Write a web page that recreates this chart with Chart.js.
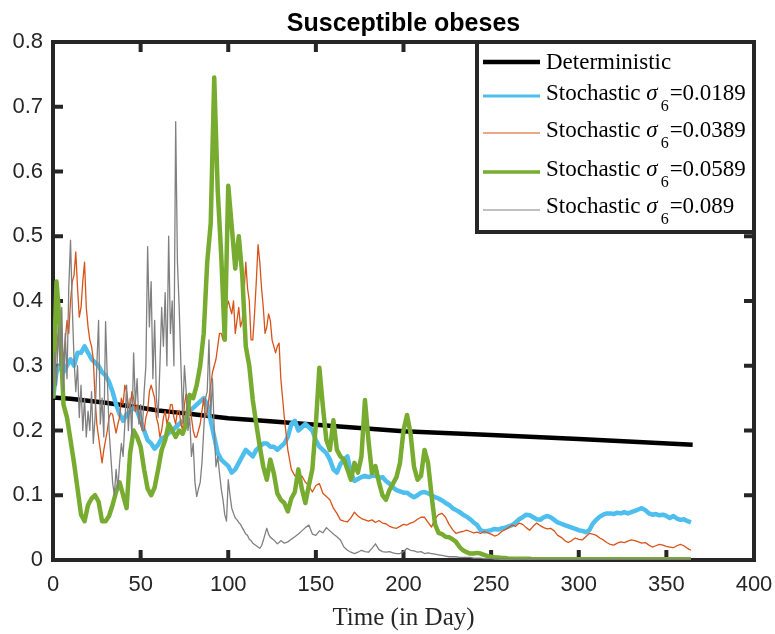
<!DOCTYPE html>
<html>
<head>
<meta charset="utf-8">
<title>Susceptible obeses</title>
<script src="https://cdn.jsdelivr.net/npm/chart.js@4.4.1/dist/chart.umd.min.js"></script>
<style>
  html, body { margin: 0; padding: 0; background: #fff; }
  #wrap { width: 775px; height: 634px; }
</style>
</head>
<body>
<div id="wrap"><canvas id="chart" width="775" height="634"></canvas></div>
<script>
// time grids of the simulations: every second day 0..364,
// and a daily grid for the first 130 days of the two noisiest runs
const days = Array.from({ length: 183 }, (_, i) => i * 2);
const earlyDays = Array.from({ length: 130 }, (_, i) => i);
const lateDays = days.filter(d => d >= 130);

// deterministic solution
const detDays = [0, 10, 20, 30, 40, 50, 60, 70, 80, 90, 100, 120, 150, 175, 200, 250, 300, 365];
const detVals = [0.251, 0.249, 0.246, 0.243, 0.239, 0.235, 0.231, 0.228, 0.225, 0.222,
                 0.219, 0.215, 0.209, 0.204, 0.199, 0.193, 0.187, 0.178];

// sigma_6 = 0.0189, every second day
const sigma1Vals = [
  0.25, 0.29, 0.30, 0.29, 0.30, 0.31, 0.30, 0.32, 0.32, 0.33,
  0.32, 0.31, 0.305, 0.30, 0.29, 0.285, 0.275, 0.26, 0.24, 0.225,
  0.215, 0.225, 0.23, 0.235, 0.23, 0.215, 0.20, 0.185, 0.18, 0.172,
  0.178, 0.188, 0.19, 0.196, 0.20, 0.205, 0.21, 0.215, 0.22, 0.23,
  0.235, 0.24, 0.245, 0.25, 0.24, 0.215, 0.19, 0.165, 0.155, 0.15,
  0.145, 0.135, 0.14, 0.15, 0.16, 0.17, 0.165, 0.16, 0.17, 0.175,
  0.18, 0.18, 0.175, 0.175, 0.17, 0.175, 0.18, 0.19, 0.21, 0.215,
  0.2, 0.205, 0.21, 0.205, 0.2, 0.185, 0.175, 0.17, 0.165, 0.155,
  0.14, 0.135, 0.148, 0.155, 0.16, 0.135, 0.122, 0.125, 0.128, 0.13,
  0.128, 0.13, 0.13, 0.127, 0.128, 0.122, 0.118, 0.112, 0.108, 0.106,
  0.104, 0.104, 0.1, 0.097, 0.1, 0.104, 0.105, 0.103, 0.1, 0.097,
  0.095, 0.092, 0.088, 0.085, 0.08, 0.077, 0.074, 0.07, 0.067, 0.063,
  0.058, 0.054, 0.046, 0.044, 0.045, 0.046, 0.048, 0.047, 0.049, 0.05,
  0.052, 0.054, 0.058, 0.063, 0.066, 0.07, 0.069, 0.066, 0.063, 0.062,
  0.066, 0.068, 0.066, 0.062, 0.058, 0.056, 0.054, 0.052, 0.05, 0.048,
  0.046, 0.045, 0.043, 0.046, 0.056, 0.062, 0.067, 0.07, 0.072, 0.072,
  0.071, 0.073, 0.072, 0.074, 0.072, 0.074, 0.076, 0.078, 0.08, 0.077,
  0.072, 0.07, 0.071, 0.069, 0.07, 0.068, 0.065, 0.068, 0.064, 0.062,
  0.063, 0.06, 0.058
];

// sigma_6 = 0.0389: daily to day 129, then every second day
const sigma2Early = [
  0.25, 0.30, 0.33, 0.35, 0.36, 0.33, 0.31, 0.34, 0.37, 0.35,
  0.40, 0.43, 0.44, 0.476, 0.42, 0.375, 0.39, 0.43, 0.46, 0.39,
  0.36, 0.34, 0.33, 0.31, 0.25, 0.21, 0.19, 0.17, 0.15, 0.17,
  0.185, 0.2, 0.22, 0.227, 0.225, 0.21, 0.196, 0.21, 0.22, 0.25,
  0.24, 0.27, 0.26, 0.24, 0.23, 0.26, 0.25, 0.23, 0.24, 0.22,
  0.21, 0.2, 0.2, 0.22, 0.23, 0.26, 0.27, 0.26, 0.25, 0.22,
  0.21, 0.19, 0.2, 0.22, 0.23, 0.21, 0.22, 0.24, 0.24, 0.22,
  0.21, 0.23, 0.23, 0.21, 0.2, 0.24, 0.257, 0.25, 0.24, 0.22,
  0.2, 0.19, 0.19, 0.2, 0.21, 0.23, 0.25, 0.22, 0.23, 0.25,
  0.27, 0.29, 0.3, 0.31, 0.33, 0.35, 0.35, 0.34, 0.37, 0.39,
  0.4, 0.39, 0.38, 0.4, 0.35, 0.37, 0.39, 0.36, 0.37, 0.41,
  0.46, 0.42, 0.4, 0.34, 0.34, 0.38, 0.43, 0.487, 0.46, 0.42,
  0.39, 0.35, 0.36, 0.38, 0.37, 0.34, 0.33, 0.32, 0.33, 0.335
];
const sigma2Late = [
  0.28, 0.22, 0.17, 0.14, 0.13,
  0.125, 0.13, 0.12, 0.115, 0.105, 0.115, 0.118, 0.103, 0.098, 0.093,
  0.08, 0.072, 0.062, 0.06, 0.059, 0.065, 0.074, 0.068, 0.064, 0.062,
  0.06, 0.062, 0.058, 0.061, 0.057, 0.056, 0.052, 0.05, 0.049, 0.052,
  0.055, 0.054, 0.057, 0.059, 0.063, 0.066, 0.066, 0.058, 0.051, 0.064,
  0.07, 0.072, 0.066, 0.055, 0.047, 0.041, 0.043, 0.044, 0.046, 0.044,
  0.042, 0.043, 0.041, 0.044, 0.042, 0.04, 0.037, 0.039, 0.044, 0.047,
  0.05, 0.054, 0.052, 0.057, 0.055, 0.05, 0.046, 0.052, 0.057, 0.053,
  0.05, 0.048, 0.049, 0.045, 0.038, 0.035, 0.03, 0.027, 0.03, 0.034,
  0.032, 0.031, 0.036, 0.041, 0.04, 0.038, 0.034, 0.031, 0.027, 0.024,
  0.023, 0.026, 0.028, 0.027, 0.029, 0.031, 0.03, 0.028, 0.026, 0.027,
  0.023, 0.02, 0.022, 0.024, 0.023, 0.021, 0.02, 0.019, 0.022, 0.024,
  0.022, 0.018, 0.015
];

// sigma_6 = 0.0589, every second day
const sigma3Vals = [
  0.25, 0.43, 0.36, 0.24, 0.22, 0.185, 0.15, 0.11, 0.07, 0.06,
  0.085, 0.095, 0.1, 0.09, 0.06, 0.06, 0.068, 0.085, 0.105, 0.12,
  0.1, 0.08, 0.165, 0.2, 0.19, 0.175, 0.14, 0.11, 0.1, 0.112,
  0.14, 0.17, 0.185, 0.21, 0.2, 0.19, 0.2, 0.195, 0.21, 0.255,
  0.25, 0.27, 0.3, 0.35, 0.46, 0.52, 0.745, 0.57, 0.47, 0.34,
  0.578, 0.515, 0.45, 0.5, 0.44, 0.33, 0.3, 0.247, 0.21, 0.175,
  0.144, 0.124, 0.155, 0.134, 0.103, 0.093, 0.088, 0.075, 0.095, 0.105,
  0.14, 0.11, 0.088, 0.115, 0.14, 0.21, 0.297, 0.237, 0.185, 0.17,
  0.216, 0.17, 0.16, 0.155, 0.14, 0.124, 0.15, 0.135, 0.16, 0.247,
  0.185, 0.134, 0.145, 0.12, 0.1, 0.093, 0.108, 0.118, 0.128, 0.15,
  0.2, 0.224, 0.196, 0.144, 0.124, 0.13, 0.17, 0.15, 0.1, 0.055,
  0.042, 0.04, 0.036, 0.035, 0.032, 0.028, 0.02, 0.015, 0.012, 0.01,
  0.01, 0.011, 0.01, 0.008, 0.006, 0.005, 0.004, 0.004, 0.003, 0.003,
  0.002, 0.002, 0.002, 0.002, 0.002, 0.002, 0.002, 0.001, 0.001, 0.001,
  0.001, 0.001, 0.001, 0.001, 0.001, 0.001, 0.001, 0.001, 0.001, 0.001,
  0.001, 0.001, 0.001, 0.001, 0.001, 0.001, 0.001, 0.001, 0.001, 0.001,
  0.001, 0.001, 0.001, 0.001, 0.001, 0.001, 0.001, 0.001, 0.001, 0.001,
  0.001, 0.001, 0.001, 0.001, 0.001, 0.001, 0.001, 0.001, 0.001, 0.001,
  0.001, 0.001, 0.001
];

// sigma_6 = 0.089: daily to day 129, then every second day
const sigma4Early = [
  0.25, 0.32, 0.27, 0.36, 0.3, 0.39, 0.26, 0.35, 0.28, 0.42,
  0.494, 0.39, 0.31, 0.26, 0.3, 0.22, 0.27, 0.2, 0.25, 0.19,
  0.23, 0.2, 0.26, 0.18, 0.22, 0.3, 0.37, 0.21, 0.25, 0.19,
  0.368, 0.28, 0.2, 0.16, 0.12, 0.1, 0.14, 0.11, 0.15, 0.18,
  0.16, 0.21, 0.27, 0.2, 0.25, 0.19, 0.32, 0.24, 0.28, 0.21,
  0.24, 0.2, 0.26, 0.3, 0.484, 0.36, 0.43, 0.28, 0.37, 0.25,
  0.22, 0.3, 0.39, 0.33, 0.413, 0.3, 0.5, 0.35, 0.4, 0.3,
  0.677, 0.46, 0.39, 0.3, 0.22, 0.3, 0.26, 0.2, 0.22, 0.16,
  0.18, 0.12, 0.098, 0.11, 0.12, 0.15, 0.2, 0.25, 0.26, 0.34,
  0.22, 0.28, 0.2, 0.144, 0.16, 0.134, 0.11, 0.093, 0.07, 0.06,
  0.124, 0.1, 0.08, 0.072, 0.065, 0.062, 0.058, 0.055, 0.05, 0.045,
  0.04, 0.038, 0.032, 0.03, 0.026, 0.024, 0.022, 0.02, 0.018, 0.022,
  0.03, 0.04, 0.049, 0.04, 0.035, 0.033, 0.031, 0.028, 0.025, 0.027
];
const sigma4Late = [
  0.03, 0.026, 0.028, 0.032, 0.036,
  0.04, 0.045, 0.05, 0.054, 0.04, 0.038, 0.045, 0.042, 0.05, 0.045,
  0.04, 0.036, 0.031, 0.02, 0.015, 0.012, 0.01, 0.012, 0.015, 0.013,
  0.012, 0.018, 0.025, 0.016, 0.013, 0.012, 0.013, 0.011, 0.01, 0.01,
  0.013, 0.018, 0.015, 0.014, 0.012, 0.013, 0.01, 0.011, 0.01, 0.009,
  0.008, 0.007, 0.006, 0.005, 0.005, 0.005, 0.004, 0.004, 0.004, 0.004,
  0.003, 0.003, 0.003, 0.002, 0.002, 0.002, 0.002, 0.002, 0.002, 0.002,
  0.002, 0.002, 0.001, 0.002, 0.001, 0.001, 0.002, 0.001, 0.001, 0.001,
  0.001, 0.001, 0.001, 0.001, 0.001, 0.001, 0.001, 0.001, 0.001, 0.001,
  0.001, 0.001, 0.001, 0.001, 0.001, 0.001, 0.001, 0.001, 0.001, 0.001,
  0.001, 0.001, 0.001, 0.001, 0.001, 0.001, 0.001, 0.001, 0.001, 0.001,
  0.001, 0.001, 0.001, 0.001, 0.001, 0.001, 0.001, 0.001, 0.001, 0.001,
  0.001, 0.001, 0.001
];

const sigmaLabels = ["0.0189", "0.0389", "0.0589", "0.089"];
const xTicks = { min: 0, max: 400, step: 50 };
const yTicks = { min: 0, max: 0.8, step: 0.1 };

const axisColor = "#262626";
const sansFont = '"Liberation Sans", Arial, Helvetica, sans-serif';
const serifFont = '"Liberation Serif", "Times New Roman", serif';

const toPoints = (xs, ys) => ys.map((v, i) => ({ x: xs[i], y: v }));
const splitDays = earlyDays.concat(lateDays);

// plotted width is a bit heavier than the legend sample for the noisy runs
const lineStyle = (color, width, keyWidth, order) => ({
  borderColor: color,
  borderWidth: width,
  keyWidth: keyWidth,
  pointRadius: 0,
  tension: 0,
  fill: false,
  borderJoinStyle: "round",
  order: order
});

/* box around the axes with inward tick marks on all four sides, plus the title */
const axesBox = {
  id: "axesBox",
  beforeDatasetsDraw(chart) {
    const { ctx, chartArea: a, scales: { x, y } } = chart;
    ctx.save();
    ctx.strokeStyle = axisColor;
    ctx.lineWidth = 4;
    ctx.strokeRect(a.left, a.top, a.right - a.left, a.bottom - a.top);
    ctx.fillStyle = axisColor;
    x.ticks.forEach(t => {
      const px = x.getPixelForValue(t.value);
      ctx.fillRect(px - 2, a.bottom - 10, 4, 10);
      ctx.fillRect(px - 2, a.top, 4, 10);
    });
    y.ticks.forEach(t => {
      const py = y.getPixelForValue(t.value);
      ctx.fillRect(a.left, py - 2, 10, 4);
      ctx.fillRect(a.right - 10, py - 2, 10, 4);
    });

    ctx.fillStyle = "#000";
    ctx.font = "bold 25px " + sansFont;
    ctx.textAlign = "center";
    ctx.textBaseline = "middle";
    ctx.fillText("Susceptible obeses", (a.left + a.right) / 2, a.top - 18);
    ctx.restore();
  }
};

/* legend in the upper right corner, with sigma_6 subscripts */
const legendBox = {
  id: "legendBox",
  afterDraw(chart) {
    const { ctx, chartArea: a } = chart;
    const w = 277, h = 190;
    const left = a.right - w, top = a.top;
    const lineY = [20, 54, 91, 130, 168];
    const baseY = [27, 57.5, 95, 134, 171];

    ctx.save();
    ctx.fillStyle = "#fff";
    ctx.fillRect(left, top, w, h);
    ctx.strokeStyle = axisColor;
    ctx.lineWidth = 4;
    ctx.strokeRect(left, top, w, h);

    ctx.textBaseline = "alphabetic";
    ctx.textAlign = "left";
    chart.data.datasets.forEach((ds, i) => {
      ctx.strokeStyle = ds.borderColor;
      ctx.lineWidth = ds.keyWidth;
      ctx.beginPath();
      ctx.moveTo(left + 6, top + lineY[i]);
      ctx.lineTo(left + 63, top + lineY[i]);
      ctx.stroke();

      ctx.fillStyle = "#000";
      let tx = left + 69;
      const by = top + baseY[i];
      if (i === 0) {
        ctx.font = "23px " + serifFont;
        ctx.fillText("Deterministic", tx, by);
        return;
      }
      ctx.font = "23px " + serifFont;
      ctx.fillText("Stochastic ", tx, by);
      tx += ctx.measureText("Stochastic ").width;
      ctx.font = "italic 23px " + serifFont;
      ctx.fillText("\u03c3", tx, by);
      tx += ctx.measureText("\u03c3").width + 3;
      ctx.font = "16px " + serifFont;
      ctx.fillText("6", tx, by + 11);
      tx += ctx.measureText("6").width + 1;
      ctx.font = "23px " + serifFont;
      ctx.fillText("=" + sigmaLabels[i - 1], tx, by);
    });
    ctx.restore();
  }
};

new Chart(document.getElementById("chart"), {
  type: "line",
  data: {
    datasets: [
      { label: "Deterministic", data: toPoints(detDays, detVals), ...lineStyle("#000000", 4.5, 4.5, 5) },
      { label: "Stochastic \u03c36=" + sigmaLabels[0], data: toPoints(days, sigma1Vals), ...lineStyle("#4DBEEE", 4.5, 3, 4) },
      { label: "Stochastic \u03c36=" + sigmaLabels[1], data: toPoints(splitDays, sigma2Early.concat(sigma2Late)), ...lineStyle("#D95319", 1.3, 1, 3) },
      { label: "Stochastic \u03c36=" + sigmaLabels[2], data: toPoints(days, sigma3Vals), ...lineStyle("#77AC30", 4.5, 3.5, 2) },
      { label: "Stochastic \u03c36=" + sigmaLabels[3], data: toPoints(splitDays, sigma4Early.concat(sigma4Late)), ...lineStyle("#808080", 1.3, 1, 1) }
    ]
  },
  options: {
    responsive: false,
    animation: false,
    layout: { padding: { left: 0, right: 21, top: 42, bottom: 0 } },
    plugins: {
      legend: { display: false },
      tooltip: { enabled: false },
      title: { display: false }
    },
    scales: {
      x: {
        type: "linear",
        min: xTicks.min,
        max: xTicks.max,
        ticks: {
          stepSize: xTicks.step,
          color: axisColor,
          font: { family: sansFont, size: 22 },
          padding: 12,
          maxRotation: 0
        },
        grid: { display: false, drawTicks: false },
        border: { display: false },
        title: {
          display: true,
          text: "Time (in Day)",
          color: axisColor,
          font: { family: serifFont, size: 25, lineHeight: 1.2 },
          padding: { top: 0, bottom: 1 }
        },
        // fixed band height; end labels may hang into the side margins
        afterFit: s => {
          s.height = 74;
          s.paddingLeft = 0;
          s.paddingRight = 0;
        }
      },
      y: {
        type: "linear",
        min: yTicks.min,
        max: yTicks.max,
        ticks: {
          stepSize: yTicks.step,
          color: axisColor,
          font: { family: sansFont, size: 22 },
          padding: 10,
          callback: v => (Math.abs(v) < 1e-9 ? "0" : v.toFixed(1))
        },
        grid: { display: false, drawTicks: false },
        border: { display: false },
        afterFit: s => { s.width = 53; }
      }
    }
  },
  plugins: [axesBox, legendBox]
});
</script>
</body>
</html>
